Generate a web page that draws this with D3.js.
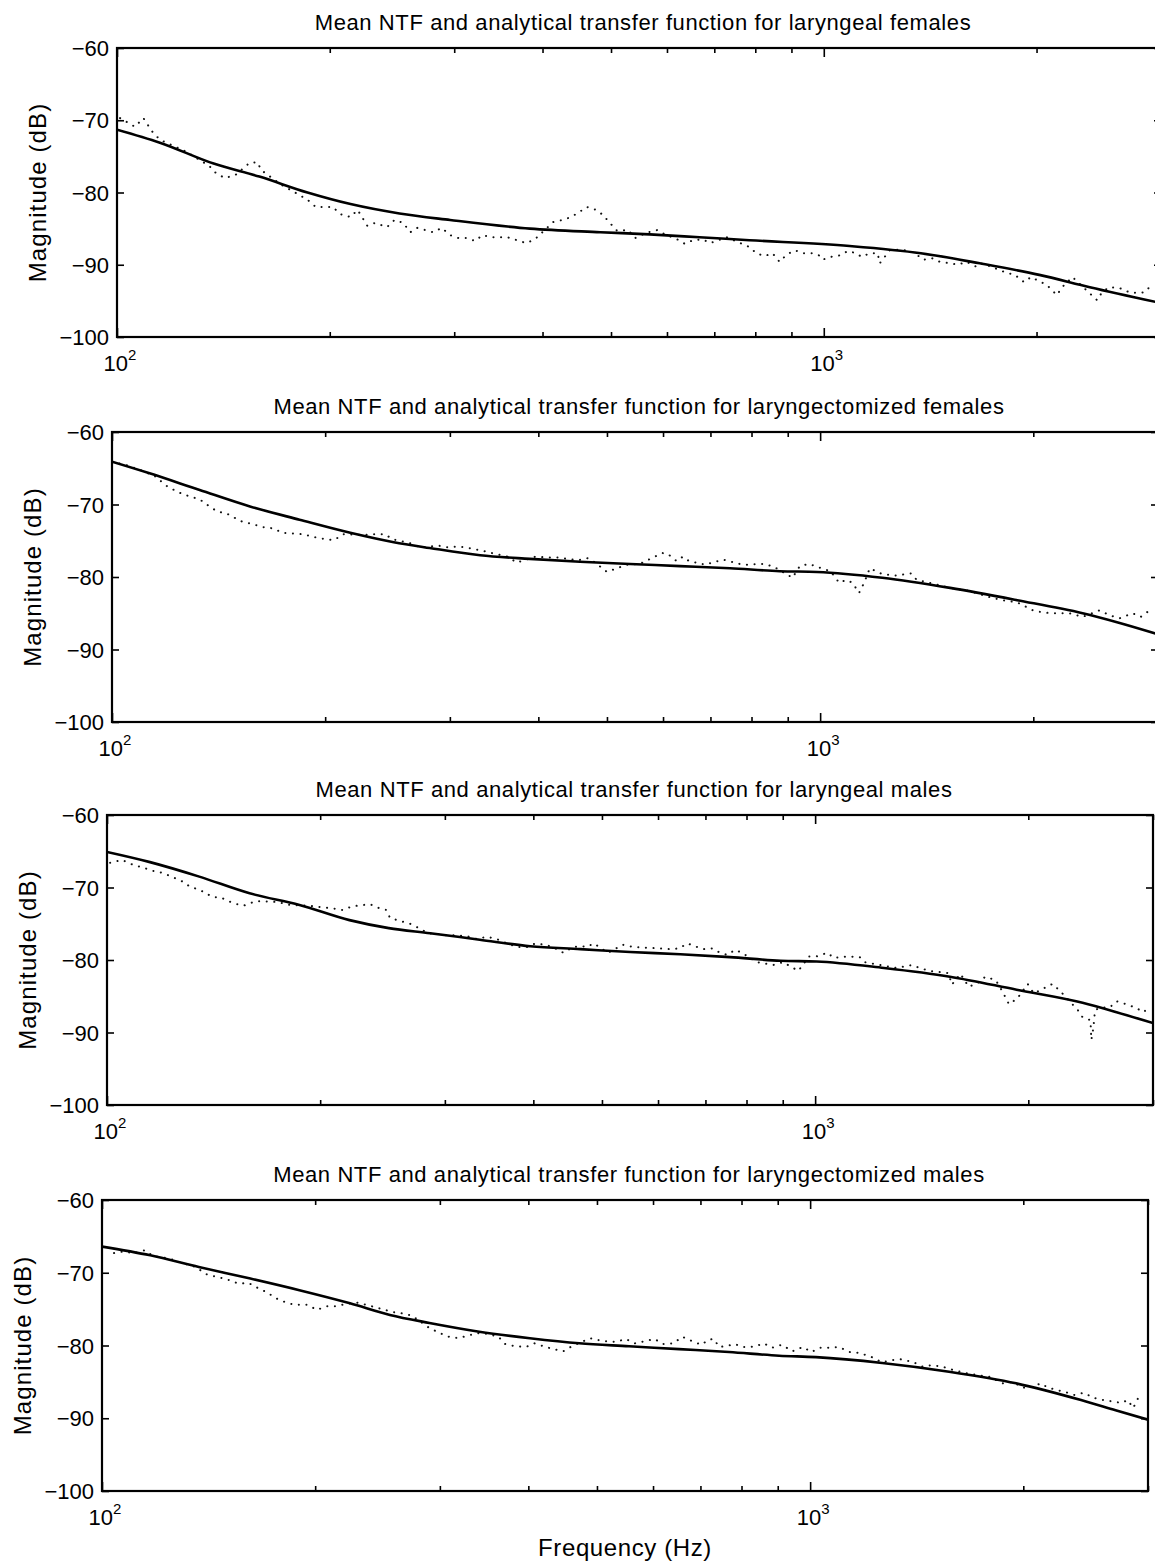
<!DOCTYPE html>
<html>
<head>
<meta charset="utf-8">
<script src="https://cdn.jsdelivr.net/npm/d3@7"></script>
<style>
  body { margin: 0; background: #fff; }
  text { font-family: "Liberation Sans", Arial, sans-serif; fill: #000; }
</style>
</head>
<body>
<script>
// titles of the four panels
var titles = [
  'Mean NTF and analytical transfer function for laryngeal females',
  'Mean NTF and analytical transfer function for laryngectomized females',
  'Mean NTF and analytical transfer function for laryngeal males',
  'Mean NTF and analytical transfer function for laryngectomized males'
];

var yTicks = [-60, -70, -80, -90, -100];
var xMajor = [100, 1000];
var xMinor = [200, 300, 400, 500, 600, 700, 800, 900, 2000, 3000];

// analytical transfer function (solid), [Hz, dB]
var fitLF = [[100,-71.3],[115,-73.1],[137,-76.0],[159,-77.8],[186,-80.0],[214,-81.6],[251,-82.9],[296,-83.8],[384,-85.0],[483,-85.5],[567,-85.8],[667,-86.2],[785,-86.6],[1088,-87.4],[1372,-88.4],[1662,-89.8],[2018,-91.4],[2379,-93.1],[3000,-95.3]];
var fitXF = [[100,-64.1],[113,-65.7],[133,-68.0],[157,-70.3],[184,-72.1],[217,-73.9],[250,-75.2],[281,-76.0],[331,-77.0],[389,-77.5],[458,-77.9],[539,-78.2],[634,-78.5],[746,-78.8],[877,-79.2],[990,-79.3],[1224,-80.1],[1526,-81.5],[1898,-83.2],[2348,-85.0],[2618,-86.2],[3000,-87.9]];
var fitLM = [[100,-65.1],[115,-66.5],[135,-68.5],[159,-70.8],[187,-72.4],[220,-74.5],[250,-75.6],[286,-76.3],[336,-77.2],[396,-78.1],[466,-78.5],[548,-78.9],[645,-79.2],[758,-79.6],[894,-80.1],[1005,-80.2],[1251,-81.1],[1550,-82.3],[1925,-84.1],[2386,-85.9],[2665,-87.2],[3000,-88.7]];
var fitXM = [[100,-66.4],[117,-67.6],[137,-69.2],[162,-70.8],[190,-72.4],[224,-74.2],[255,-75.8],[290,-76.9],[341,-78.1],[402,-79.0],[472,-79.7],[555,-80.1],[653,-80.5],[768,-80.9],[904,-81.4],[1019,-81.6],[1264,-82.4],[1571,-83.6],[1954,-85.2],[2413,-87.5],[2700,-88.9],[3000,-90.2]];

// mean NTF (dotted), [Hz, dB]
var ntfLF = [[101,-69.7],[106,-70.9],[109,-69.7],[112,-71.5],[115,-72.7],[125,-74.3],[135,-76.3],[138,-77.3],[142,-78.0],[147,-77.6],[154,-75.9],[158,-75.8],[160,-76.9],[170,-78.8],[186,-81.0],[191,-82.0],[197,-82.0],[202,-82.0],[207,-83.0],[214,-83.4],[219,-82.4],[226,-84.6],[232,-84.2],[241,-84.8],[247,-83.8],[254,-84.2],[260,-85.5],[266,-84.9],[273,-85.2],[280,-85.5],[288,-84.9],[296,-85.9],[304,-86.3],[312,-86.3],[321,-86.7],[329,-85.9],[339,-86.2],[348,-86.2],[357,-86.2],[368,-86.6],[379,-87.0],[390,-86.5],[414,-84.1],[427,-83.8],[439,-83.4],[451,-82.7],[462,-82.0],[476,-82.4],[487,-83.1],[498,-84.2],[510,-85.3],[529,-85.2],[541,-86.3],[560,-85.6],[581,-85.2],[590,-85.6],[624,-86.6],[636,-87.1],[653,-86.6],[674,-86.5],[691,-87.0],[729,-86.2],[787,-87.6],[802,-88.4],[825,-88.8],[846,-88.4],[866,-89.6],[886,-88.6],[910,-88.0],[935,-88.4],[962,-88.4],[984,-88.7],[996,-89.3],[1024,-88.9],[1055,-88.7],[1081,-88.1],[1111,-88.4],[1131,-88.9],[1163,-88.4],[1192,-88.4],[1200,-89.8],[1240,-88.0],[1290,-87.9],[1340,-88.3],[1384,-89.3],[1423,-89.1],[1460,-89.6],[1508,-89.8],[1548,-90.0],[1592,-89.6],[1646,-90.3],[1675,-89.8],[1728,-90.3],[1812,-91.1],[1864,-91.4],[1920,-92.4],[1964,-91.7],[2068,-92.8],[2137,-94.2],[2174,-93.1],[2248,-91.7],[2375,-93.9],[2436,-94.9],[2476,-93.8],[2533,-93.1],[2618,-93.2],[2704,-93.8],[2779,-93.9],[2846,-93.8],[2920,-92.6]];
var ntfXF = [[100,-64.1],[105,-64.6],[110,-65.3],[115,-66.1],[120,-67.6],[126,-68.6],[129,-68.9],[133,-69.3],[137,-70.2],[141,-71.0],[145,-71.2],[148,-71.7],[153,-72.4],[158,-72.7],[163,-73.1],[169,-73.3],[174,-73.9],[180,-74.0],[186,-74.1],[195,-74.6],[201,-74.8],[206,-74.9],[212,-74.1],[226,-74.2],[233,-74.1],[243,-74.1],[249,-74.8],[263,-75.3],[272,-75.9],[290,-75.7],[298,-75.9],[308,-75.8],[315,-75.9],[334,-76.4],[344,-76.7],[362,-77.2],[373,-78.0],[396,-77.2],[413,-77.3],[426,-77.3],[440,-77.5],[455,-77.7],[469,-77.4],[481,-78.0],[500,-79.3],[513,-78.9],[533,-78.3],[556,-78.2],[587,-77.1],[599,-76.7],[609,-76.8],[627,-77.8],[640,-77.2],[653,-77.8],[688,-78.3],[729,-77.6],[770,-78.2],[786,-78.3],[833,-78.2],[861,-78.6],[914,-80.1],[936,-78.5],[965,-78.2],[990,-78.6],[1034,-79.2],[1064,-80.8],[1089,-80.4],[1111,-80.8],[1135,-82.2],[1155,-80.7],[1175,-78.8],[1224,-79.6],[1280,-79.8],[1343,-79.5],[1369,-80.4],[1440,-80.9],[1526,-81.5],[1620,-81.9],[1738,-82.8],[1808,-83.2],[1898,-83.5],[1998,-84.6],[2064,-84.9],[2133,-85.0],[2250,-85.0],[2348,-85.5],[2480,-84.6],[2566,-85.3],[2647,-85.7],[2762,-85.0],[2836,-85.5],[2920,-84.6]];
var ntfLM = [[101,-66.6],[105,-66.2],[109,-66.9],[112,-67.2],[116,-67.7],[120,-68.0],[124,-68.6],[128,-69.2],[131,-69.9],[135,-70.3],[141,-71.3],[145,-71.4],[151,-72.2],[156,-72.5],[162,-71.9],[166,-71.9],[174,-72.0],[181,-72.4],[192,-72.5],[209,-72.9],[215,-73.1],[222,-72.6],[235,-72.3],[243,-72.9],[248,-73.1],[251,-74.2],[259,-74.6],[268,-75.0],[277,-75.7],[284,-76.3],[293,-76.4],[302,-76.6],[310,-76.6],[322,-76.7],[333,-77.1],[344,-76.8],[355,-77.1],[367,-77.7],[379,-78.2],[392,-78.2],[403,-77.7],[415,-77.9],[426,-78.2],[441,-79.0],[455,-78.2],[469,-78.1],[476,-78.2],[487,-77.7],[499,-78.4],[510,-79.0],[535,-77.9],[553,-78.2],[603,-78.4],[623,-78.5],[643,-78.4],[660,-77.7],[676,-78.1],[696,-78.5],[715,-78.4],[731,-78.9],[751,-79.3],[771,-78.6],[788,-79.0],[828,-80.3],[872,-80.7],[901,-80.3],[947,-81.5],[981,-79.5],[1005,-79.5],[1041,-79.0],[1062,-79.7],[1112,-79.5],[1156,-79.6],[1174,-80.3],[1236,-80.7],[1303,-81.1],[1370,-80.7],[1405,-81.1],[1452,-81.5],[1542,-81.8],[1560,-83.4],[1604,-81.9],[1648,-83.7],[1694,-83.2],[1740,-82.3],[1800,-82.8],[1840,-84.4],[1878,-86.1],[1930,-85.3],[1996,-83.3],[2036,-84.6],[2104,-83.9],[2164,-83.3],[2224,-84.4],[2349,-86.9],[2386,-87.9],[2448,-88.3],[2455,-91.0],[2470,-89.5],[2485,-86.9],[2525,-86.6],[2609,-86.5],[2665,-85.7],[2750,-86.1],[2838,-86.6],[2910,-87.2],[2960,-86.5]];
var ntfXM = [[104,-67.3],[107,-67.1],[111,-67.3],[115,-66.9],[118,-67.7],[122,-67.9],[126,-68.2],[130,-68.7],[134,-69.0],[137,-69.5],[141,-70.3],[146,-70.6],[151,-71.0],[156,-71.5],[161,-71.4],[166,-72.1],[171,-72.7],[176,-73.5],[182,-74.1],[187,-74.4],[195,-74.4],[201,-75.1],[208,-74.6],[214,-74.6],[221,-74.3],[229,-74.1],[236,-74.4],[251,-75.1],[257,-75.4],[266,-75.6],[274,-75.9],[290,-77.6],[300,-78.3],[309,-78.8],[319,-79.0],[327,-78.7],[339,-78.3],[350,-78.4],[363,-78.8],[371,-79.8],[383,-80.1],[397,-80.2],[408,-79.7],[420,-80.1],[434,-80.5],[448,-80.8],[461,-80.1],[489,-79.0],[510,-79.4],[532,-79.5],[549,-79.1],[566,-79.7],[585,-79.4],[603,-79.1],[620,-79.8],[641,-79.7],[660,-78.8],[681,-79.4],[702,-79.9],[719,-79.2],[731,-79.1],[744,-80.2],[760,-80.1],[783,-79.8],[801,-80.2],[820,-80.2],[838,-80.1],[860,-79.7],[884,-80.3],[912,-79.9],[944,-80.8],[977,-80.2],[1004,-80.9],[1033,-80.3],[1059,-80.3],[1098,-80.2],[1137,-80.9],[1173,-81.0],[1222,-81.6],[1263,-82.3],[1305,-82.0],[1345,-81.9],[1400,-82.3],[1441,-82.9],[1483,-82.7],[1536,-82.9],[1597,-83.4],[1661,-83.8],[1734,-84.1],[1792,-84.3],[1870,-85.2],[1932,-85.0],[1997,-85.8],[2064,-85.7],[2115,-85.2],[2169,-85.8],[2227,-86.1],[2294,-86.4],[2361,-86.8],[2435,-86.5],[2514,-87.2],[2595,-87.5],[2678,-87.7],[2749,-87.9],[2810,-87.5],[2859,-88.6],[2906,-87.2],[2961,-87.0]];

var fits = [fitLF, fitXF, fitLM, fitXM];
var ntfs = [ntfLF, ntfXF, ntfLM, ntfXM];

// panel boxes (the scan is slightly skewed, so each panel sits a bit differently)
var boxes = [
  {left: 117, right: 1161, top: 48,   bottom: 337},
  {left: 112, right: 1158, top: 432,  bottom: 722},
  {left: 107, right: 1153, top: 815,  bottom: 1105},
  {left: 102, right: 1148, top: 1200, bottom: 1491}
];

var svg = d3.select('body').append('svg')
    .attr('width', 1155)
    .attr('height', 1563);

boxes.forEach(function(b, i) {
  var x = d3.scaleLog().domain([100, 3000]).range([b.left, b.right]);
  var y = d3.scaleLinear().domain([-100, -60]).range([b.bottom, b.top]);
  var g = svg.append('g');

  g.append('clipPath').attr('id', 'clip' + i)
    .append('rect')
      .attr('x', b.left).attr('y', b.top)
      .attr('width', b.right - b.left).attr('height', b.bottom - b.top);

  var line = d3.line()
      .x(function(d) { return x(d[0]); })
      .y(function(d) { return y(d[1]); });

  // measured NTF, dotted
  g.append('path')
      .datum(ntfs[i])
      .attr('clip-path', 'url(#clip' + i + ')')
      .attr('d', line)
      .attr('fill', 'none')
      .attr('stroke', '#111')
      .attr('stroke-width', 2)
      .attr('stroke-linecap', 'round')
      .attr('stroke-dasharray', '0.1 7.5');

  // analytical fit, solid
  g.append('path')
      .datum(fits[i])
      .attr('clip-path', 'url(#clip' + i + ')')
      .attr('d', line.curve(d3.curveMonotoneX))
      .attr('fill', 'none')
      .attr('stroke', '#000')
      .attr('stroke-width', 2.6);

  // frame
  g.append('rect')
      .attr('x', b.left).attr('y', b.top)
      .attr('width', b.right - b.left).attr('height', b.bottom - b.top)
      .attr('fill', 'none')
      .attr('stroke', '#000')
      .attr('stroke-width', 2.2);

  // inward ticks on all four sides
  var ax = [
    d3.axisBottom(x).tickValues(xMajor).tickSizeInner(-9),
    d3.axisTop(x).tickValues(xMajor).tickSizeInner(-9),
    d3.axisBottom(x).tickValues(xMinor).tickSizeInner(-5),
    d3.axisTop(x).tickValues(xMinor).tickSizeInner(-5)
  ];
  ax.forEach(function(a, k) {
    var gy = (k % 2 === 0) ? b.bottom : b.top;
    var ga = g.append('g').attr('transform', 'translate(0,' + gy + ')')
        .call(a.tickSizeOuter(0).tickFormat(''));
    ga.select('.domain').remove();
    ga.selectAll('line').attr('stroke-width', 1.6);
  });
  [d3.axisLeft(y).tickSizeInner(-7), d3.axisRight(y).tickSizeInner(-7)].forEach(function(a, k) {
    var gx = k === 0 ? b.left : b.right;
    var ga = g.append('g').attr('transform', 'translate(' + gx + ',0)')
        .call(a.tickValues(yTicks).tickSizeOuter(0).tickFormat(''));
    ga.select('.domain').remove();
    ga.selectAll('line').attr('stroke-width', 1.6);
  });

  // y tick labels
  g.selectAll('.ylab')
    .data(yTicks)
    .enter()
    .append('text')
      .attr('x', b.left - 8)
      .attr('y', function(d) { return y(d) + 8; })
      .attr('text-anchor', 'end')
      .attr('font-size', 22)
      .text(function(d) { return d < 0 ? '\u2212' + Math.abs(d) : d; });

  // x tick labels 10^2, 10^3
  xMajor.forEach(function(v) {
    var t = g.append('text')
        .attr('x', x(v) + 3)
        .attr('y', b.bottom + 34)
        .attr('text-anchor', 'middle')
        .attr('font-size', 22);
    t.append('tspan').text('10');
    t.append('tspan').attr('dy', -11).attr('font-size', 15).text(String(Math.log10(v)));
  });

  // title
  g.append('text')
      .attr('x', (b.left + b.right) / 2 + 4)
      .attr('y', b.top - 18)
      .attr('text-anchor', 'middle')
      .attr('font-size', 22)
      .attr('letter-spacing', 0.6)
      .text(titles[i]);

  // y label
  g.append('text')
      .attr('transform', 'translate(' + (b.left - 71) + ',' + ((b.top + b.bottom) / 2) + ') rotate(-90)')
      .attr('text-anchor', 'middle')
      .attr('font-size', 24)
      .attr('letter-spacing', 1.1)
      .text('Magnitude (dB)');
});

svg.append('text')
    .attr('x', 625)
    .attr('y', 1556)
    .attr('text-anchor', 'middle')
    .attr('font-size', 24)
    .attr('letter-spacing', 0.6)
    .text('Frequency (Hz)');
</script>
</body>
</html>
